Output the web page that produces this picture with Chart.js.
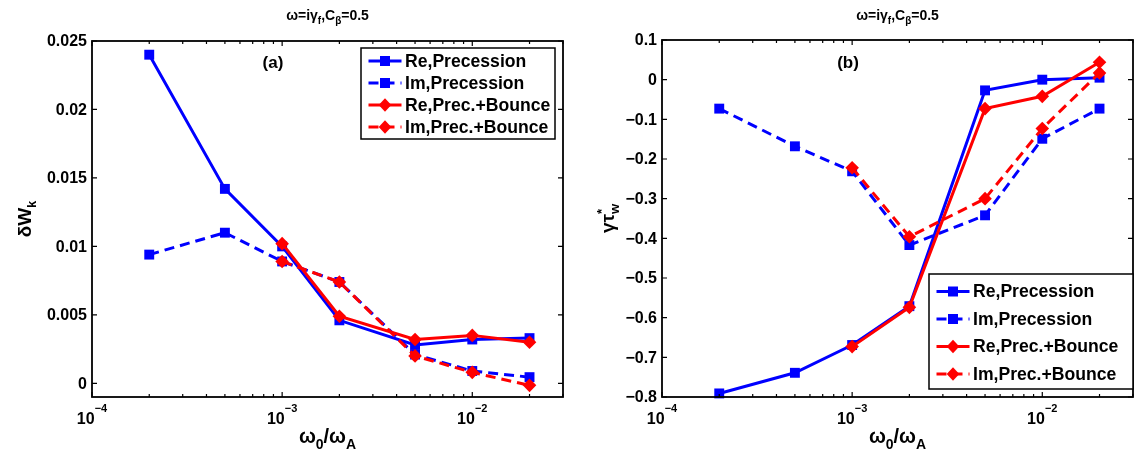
<!DOCTYPE html>
<html>
<head>
<meta charset="utf-8">
<script src="https://cdn.jsdelivr.net/npm/chart.js@4.4.1/dist/chart.umd.min.js"></script>
<style>
  body { margin: 0; background: #fff; }
  canvas { position: absolute; top: 0; }
</style>
</head>
<body>
<canvas id="graficoA" width="570" height="451" style="left:0px"></canvas>
<canvas id="graficoB" width="570" height="451" style="left:570px"></canvas>
<script>
// eje x comun: omega_0 / omega_A
const frecuencias = [2e-4, 5e-4, 1e-3, 2e-3, 5e-3, 1e-2, 2e-2]
const nombresSeries = ['Re,Precession', 'Im,Precession', 'Re,Prec.+Bounce', 'Im,Prec.+Bounce']

// panel (a): delta W_k
const reDwPrec   = [0.0240, 0.0142, 0.0100, 0.0046, 0.0028, 0.0032, 0.0033]
const imDwPrec   = [0.0094, 0.0110, 0.0089, 0.0074, 0.0021, 0.0009, 0.00045]
const reDwBounce = [null, null, 0.0102, 0.0049, 0.0032, 0.0035, 0.0030]
const imDwBounce = [null, null, 0.0089, 0.0074, 0.0020, 0.0008, -0.00015]

// panel (b): gamma tau_w*
const reGamPrec   = [-0.791, -0.739, -0.669, -0.571, -0.027, 0.000, 0.005]
const imGamPrec   = [-0.073, -0.168, -0.231, -0.417, -0.342, -0.149, -0.073]
const reGamBounce = [null, null, -0.673, -0.574, -0.073, -0.042, 0.044]
const imGamBounce = [null, null, -0.222, -0.396, -0.300, -0.123, 0.017]

// marcas de los ejes
const decadas = [1e-4, 1e-3, 1e-2]
const exponentes = ['\u22124', '\u22123', '\u22122']
const ticksA = [0, 0.005, 0.01, 0.015, 0.02, 0.025]
const etiquetasA = ['0', '0.005', '0.01', '0.015', '0.02', '0.025']
const ticksB = [0.1, 0, -0.1, -0.2, -0.3, -0.4, -0.5, -0.6, -0.7, -0.8]
const etiquetasB = ['0.1', '0', '\u22120.1', '\u22120.2', '\u22120.3', '\u22120.4', '\u22120.5', '\u22120.6', '\u22120.7', '\u22120.8']

const AZUL = '#0000ff'
const ROJO = '#ff0000'
const FUENTE = '"Liberation Sans", Arial, sans-serif'

function puntos(valores) {
    return frecuencias
        .map((f, i) => ({ x: f, y: valores[i] }))
        .filter(p => p.y !== null)
}

function serie(etiqueta, valores, color, discontinua, marcador, orden) {
    return {
        label: etiqueta,
        data: puntos(valores),
        borderColor: color,
        backgroundColor: color,
        borderWidth: 3,
        borderDash: discontinua ? [10, 6] : [],
        pointStyle: marcador,
        pointRadius: marcador === 'rect' ? 7 : 6.8,
        pointBorderWidth: 0,
        tension: 0,
        order: orden,
        clip: false
    }
}

// dibuja texto con subindices / superindices
function textoCompuesto(ctx, partes, x, y, alinear) {
    let ancho = 0
    partes.forEach(p => {
        ctx.font = `bold ${p.s}px ${FUENTE}`
        p.w = ctx.measureText(p.t).width
        if (!p.fijo) ancho += p.w
    })
    let cx = alinear === 'center' ? x - ancho / 2 : (alinear === 'right' ? x - ancho : x)
    ctx.textAlign = 'left'
    ctx.textBaseline = 'alphabetic'
    partes.forEach(p => {
        ctx.font = `bold ${p.s}px ${FUENTE}`
        ctx.fillText(p.t, cx, y + (p.dy || 0))
        if (!p.fijo) cx += p.w
    })
}

function marcador(ctx, tipo, x, y, color) {
    ctx.fillStyle = color
    ctx.beginPath()
    if (tipo === 'rect') {
        ctx.rect(x - 5, y - 5, 10, 10)
    } else {
        ctx.moveTo(x, y - 6.8)
        ctx.lineTo(x + 6.3, y)
        ctx.lineTo(x, y + 6.8)
        ctx.lineTo(x - 6.3, y)
        ctx.closePath()
    }
    ctx.fill()
}

const ejesMatlab = {
    id: 'ejesMatlab',
    afterDraw(chart, args, op) {
        const ctx = chart.ctx
        const area = chart.chartArea
        const sx = chart.scales.x
        const sy = chart.scales.y
        ctx.save()
        ctx.strokeStyle = '#000'
        ctx.fillStyle = '#000'
        ctx.lineWidth = 1.2
        ctx.setLineDash([])

        // marcas menores y mayores del eje logaritmico (hacia dentro)
        ctx.beginPath()
        for (let d = 1e-4; d < 0.05; d *= 10) {
            for (let m = 1; m <= 9; m++) {
                const v = d * m
                if (v > sx.max * 1.0001) break
                const px = sx.getPixelForValue(v)
                const largo = m === 1 ? 5 : 3
                ctx.moveTo(px, area.bottom); ctx.lineTo(px, area.bottom - largo)
                ctx.moveTo(px, area.top); ctx.lineTo(px, area.top + largo)
            }
        }
        op.ticks.forEach(v => {
            const py = sy.getPixelForValue(v)
            ctx.moveTo(area.left, py); ctx.lineTo(area.left + 5, py)
            ctx.moveTo(area.right, py); ctx.lineTo(area.right - 5, py)
        })
        ctx.stroke()

        // marco
        ctx.lineWidth = 1.8
        ctx.strokeRect(area.left, area.top, area.right - area.left, area.bottom - area.top)

        // etiquetas eje y
        ctx.font = `bold 16px ${FUENTE}`
        ctx.textAlign = 'right'
        ctx.textBaseline = 'middle'
        op.ticks.forEach((v, i) => {
            ctx.fillText(op.etiquetas[i], area.left - 5, sy.getPixelForValue(v) + 1)
        })

        // etiquetas eje x (10^n)
        decadas.forEach((v, i) => {
            textoCompuesto(ctx, [
                { t: '10', s: 16 },
                { t: exponentes[i], s: 11, dy: -12 }
            ], sx.getPixelForValue(v), 424, 'center')
        })

        const centro = (area.left + area.right) / 2
        // titulo
        textoCompuesto(ctx, [
            { t: '\u03c9=i\u03b3', s: 14 },
            { t: 'f', s: 10, dy: 4 },
            { t: ',C', s: 14 },
            { t: '\u03b2', s: 10, dy: 4 },
            { t: '=0.5', s: 14 }
        ], centro, 20, 'center')

        // etiqueta eje x
        textoCompuesto(ctx, [
            { t: '\u03c9', s: 20 },
            { t: '0', s: 14, dy: 6 },
            { t: '/\u03c9', s: 20 },
            { t: 'A', s: 14, dy: 6 }
        ], centro, 443, 'center')

        // etiqueta eje y (girada)
        ctx.save()
        ctx.translate(op.yLabelX, (area.top + area.bottom) / 2)
        ctx.rotate(-Math.PI / 2)
        textoCompuesto(ctx, op.yLabel, 0, 0, 'center')
        ctx.restore()

        // letra del panel
        ctx.font = `bold 17px ${FUENTE}`
        ctx.textAlign = 'center'
        ctx.textBaseline = 'middle'
        ctx.fillText(op.letra, op.letraX, 63)

        // leyenda
        const lg = op.leyenda
        ctx.fillStyle = '#fff'
        ctx.fillRect(lg.x, lg.y, lg.w, lg.h)
        ctx.lineWidth = 1.5
        ctx.strokeStyle = '#000'
        ctx.strokeRect(lg.x, lg.y, lg.w, lg.h)
        chart.data.datasets.forEach((ds, i) => {
            const fy = lg.y + lg.primera + i * lg.paso
            ctx.strokeStyle = ds.borderColor
            ctx.lineWidth = 3
            ctx.setLineDash(ds.borderDash)
            ctx.beginPath()
            ctx.moveTo(lg.x + 7.5, fy)
            ctx.lineTo(lg.x + 40.5, fy)
            ctx.stroke()
            ctx.setLineDash([])
            marcador(ctx, ds.pointStyle, lg.x + 24, fy, ds.borderColor)
            ctx.fillStyle = '#000'
            ctx.font = `bold 17.6px ${FUENTE}`
            ctx.textAlign = 'left'
            ctx.textBaseline = 'middle'
            ctx.fillText(ds.label, lg.x + 44, fy + 1)
        })
        ctx.restore()
    }
}

function crearPanel(id, valores, yMin, yMax, padding, opciones) {
    const datasets = [
        serie(nombresSeries[0], valores[0], AZUL, false, 'rect', 4),
        serie(nombresSeries[1], valores[1], AZUL, true, 'rect', 3),
        serie(nombresSeries[2], valores[2], ROJO, false, 'rectRot', 2),
        serie(nombresSeries[3], valores[3], ROJO, true, 'rectRot', 1)
    ]
    const config = {
        type: 'line',
        data: { datasets },
        options: {
            responsive: false,
            animation: false,
            layout: { padding },
            scales: {
                x: { type: 'logarithmic', min: 1e-4, max: 3e-2, display: false },
                y: { type: 'linear', min: yMin, max: yMax, display: false }
            },
            plugins: {
                legend: { display: false },
                tooltip: { enabled: false },
                ejesMatlab: opciones
            }
        },
        plugins: [ejesMatlab]
    }
    return new Chart(document.querySelector(id), config)
}

crearPanel('#graficoA', [reDwPrec, imDwPrec, reDwBounce, imDwBounce], -0.001, 0.025,
    { left: 92, right: 5, top: 41, bottom: 54 },
    {
        ticks: ticksA, etiquetas: etiquetasA,
        yLabel: [{ t: '\u03b4W', s: 19 }, { t: 'k', s: 13, dy: 5 }],
        yLabelX: 31,
        letra: '(a)', letraX: 273,
        leyenda: { x: 361, y: 48, w: 194, h: 91, primera: 13, paso: 22 }
    })

crearPanel('#graficoB', [reGamPrec, imGamPrec, reGamBounce, imGamBounce], -0.8, 0.1,
    { left: 92, right: 1.5, top: 40, bottom: 54 },
    {
        ticks: ticksB, etiquetas: etiquetasB,
        yLabel: [{ t: '\u03b3\u03c4', s: 19 }, { t: '*', s: 13, dy: -8, fijo: true }, { t: 'w', s: 13, dy: 5 }],
        yLabelX: 44,
        letra: '(b)', letraX: 278,
        leyenda: { x: 359, y: 274, w: 204, h: 115, primera: 17.5, paso: 27.5 }
    })
</script>
</body>
</html>
